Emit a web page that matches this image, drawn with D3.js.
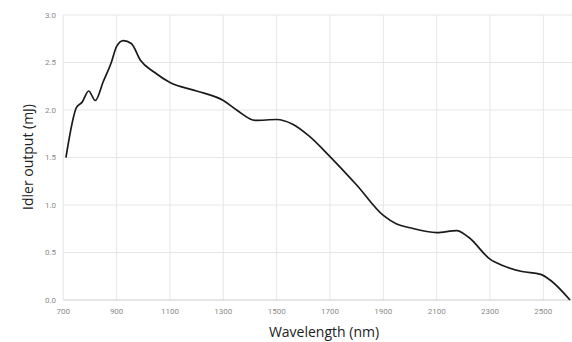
<!DOCTYPE html>
<html><head><meta charset="utf-8">
<script src="https://cdn.jsdelivr.net/npm/d3@7"></script>
<style>body{margin:0;background:#fff}svg{display:block}</style>
</head><body>
<script>
const wavelengths = [710,750,770,795,820,850,880,900,925,955,990,1040,1100,1200,1300,1350,1420,1500,1560,1620,1700,1800,1900,1950,2000,2100,2175,2220,2300,2350,2420,2490,2530,2600];
const idlerOutput = [1.50,2.03,2.08,2.20,2.10,2.30,2.50,2.67,2.73,2.70,2.52,2.40,2.29,2.20,2.10,2.00,1.89,1.90,1.85,1.73,1.51,1.21,0.89,0.80,0.76,0.71,0.73,0.66,0.43,0.36,0.30,0.27,0.20,0.00];
const xTicks = [700,900,1100,1300,1500,1700,1900,2100,2300,2500];
const yTicks = [0.0,0.5,1.0,1.5,2.0,2.5,3.0];

const W=572,H=342;
const svg=d3.select("body").append("svg").attr("width",W).attr("height",H);
const x=d3.scaleLinear().domain([700,2600]).range([63.3,570]);
const y=d3.scaleLinear().domain([0,3]).range([300,15]);

// grid
svg.append("g").selectAll("line").data(xTicks).join("line")
  .attr("x1",d=>x(d)).attr("x2",d=>x(d)).attr("y1",15).attr("y2",300)
  .attr("stroke","#e6e6e6").attr("stroke-width",1);
svg.append("g").selectAll("line").data(yTicks).join("line")
  .attr("x1",63.3).attr("x2",572).attr("y1",d=>y(d)).attr("y2",d=>y(d))
  .attr("stroke",d=>d===0?"#cccccc":"#e6e6e6").attr("stroke-width",1);

// tick labels
svg.append("g").selectAll("text").data(yTicks).join("text")
  .attr("x",56).attr("y",d=>y(d)).attr("dy","0.35em").attr("text-anchor","end")
  .attr("font-family","Roboto, Arial, sans-serif").attr("font-size",8).attr("fill","#8a8a8a")
  .text(d=>d.toFixed(1));
svg.append("g").selectAll("text").data(xTicks).join("text")
  .attr("x",d=>x(d)).attr("y",311).attr("dy","0.35em").attr("text-anchor","middle")
  .attr("font-family","Roboto, Arial, sans-serif").attr("font-size",8).attr("fill","#8a8a8a")
  .text(d=>d);

// line
const data=wavelengths.map((w,i)=>[w,idlerOutput[i]]);
svg.append("path").datum(data)
  .attr("fill","none").attr("stroke","#1a1a1a").attr("stroke-width",1.7)
  .attr("d",d3.line().x(d=>x(d[0])).y(d=>y(d[1])).curve(d3.curveMonotoneX));

// axis titles
svg.append("text").attr("x",324).attr("y",337).attr("text-anchor","middle")
  .attr("font-family","'Open Sans', Lato, sans-serif").attr("font-size",14).attr("fill","#222")
  .text("Wavelength (nm)");
svg.append("text").attr("transform","translate(33,157) rotate(-90)").attr("text-anchor","middle")
  .attr("font-family","'Open Sans', Lato, sans-serif").attr("font-size",14).attr("fill","#222")
  .text("Idler output (mJ)");
</script>
</body></html>
